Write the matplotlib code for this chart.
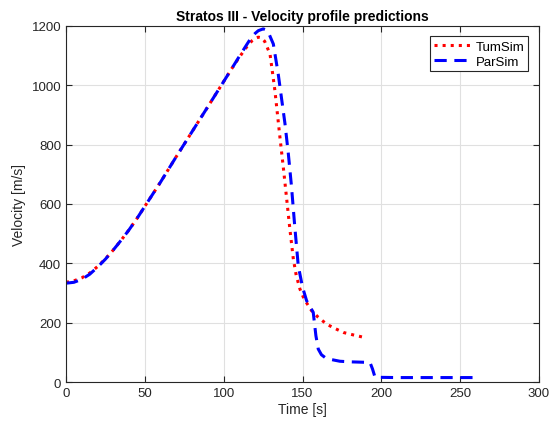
import matplotlib

matplotlib.use("Agg")
import matplotlib.pyplot as plt

plt.rcParams["font.family"] = ["Liberation Sans", "DejaVu Sans"]

tum_t = [0, 5, 10, 15, 20, 25, 30, 35, 40, 45, 50, 60, 70, 75.5, 80, 90, 99, 105, 110, 115, 118, 120, 122, 124,
         126, 129.4, 132.5, 135.7, 138, 140, 142, 144.2, 146, 148.4, 151, 155.8, 160, 165.3, 170, 175.9, 182, 187.7]
tum_v = [336, 341, 351, 367, 389, 415, 445, 478, 513, 551, 592, 674, 760, 806, 844, 928, 1004, 1055, 1095, 1132, 1150, 1158, 1162, 1160,
         1148, 1105, 982, 824, 715, 615, 515, 414, 360, 313, 280, 240, 218, 195, 182, 167, 159, 152]

par_t = [0, 5, 10, 15, 20, 25, 30, 35, 40, 45, 50, 60, 70, 75.5, 80, 90, 99, 105, 110, 115, 117.7, 120, 122, 125.1, 127, 129,
         131.5, 134.6, 138.9, 141, 143, 145, 147.3, 150, 152.6, 156.8, 158.5, 160, 162, 164.2, 168, 173.7,
         180, 192.8, 194.4, 196, 210, 230, 250, 261.5]
par_v = [333, 336, 346, 363, 387, 414, 445, 478, 513, 551, 592, 674, 760, 806, 844, 928, 1004, 1055, 1098, 1140, 1162, 1175, 1184, 1190, 1186, 1170,
         1139, 1038, 870, 770, 660, 530, 392, 320, 274, 235, 156, 111, 92, 83, 76, 70,
         68, 66, 44, 16, 15, 15, 15, 15]

fig = plt.figure(figsize=(5.5, 4.27), dpi=100)
ax = fig.add_axes([0.12, 0.103, 0.86, 0.834])
ax.plot(tum_t, tum_v, color="red", linestyle=":", linewidth=2.2, label="TumSim")
ax.plot(par_t, par_v, color="blue", linestyle=(0, (4, 2.5)), linewidth=2.2, label="ParSim")
ax.set_xlim(0, 300)
ax.set_ylim(0, 1200)
ax.set_xticks(range(0, 301, 50))
ax.set_yticks(range(0, 1201, 200))
ax.set_xlabel("Time [s]", fontsize=10, color="#262626", labelpad=2)
ax.set_ylabel("Velocity [m/s]", fontsize=10, color="#262626", labelpad=4)
ax.set_title("Stratos III - Velocity profile predictions", fontsize=10, fontweight="bold", pad=4)
ax.grid(True, color="#e0e0e0", linewidth=0.8)
ax.set_axisbelow(True)
ax.tick_params(direction="in", top=True, right=True, labelsize=9.5, colors="#262626", length=4)
for s in ax.spines.values():
    s.set_color("#262626")
    s.set_linewidth(0.8)
leg = ax.legend(loc="upper right", fontsize=9.5, fancybox=False, edgecolor="#262626",
                framealpha=1, handlelength=3.0, borderpad=0.3, labelspacing=0.2,
                handletextpad=0.2, borderaxespad=0.8)
leg.get_frame().set_linewidth(0.8)
fig.savefig("out.png", dpi=100)
